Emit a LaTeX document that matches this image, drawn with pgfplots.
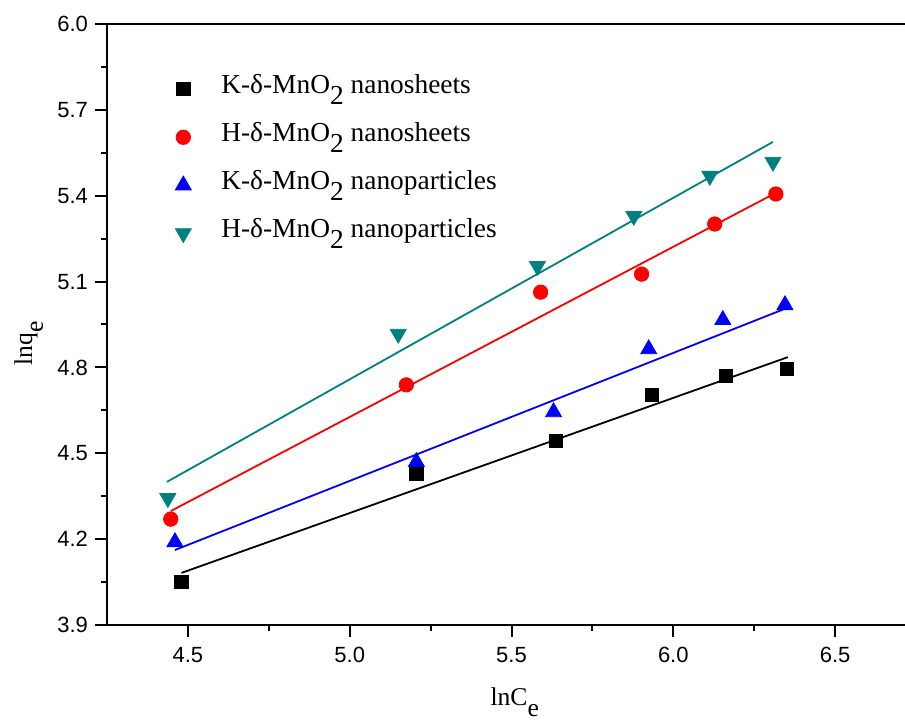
\documentclass[border=0pt]{standalone}
\usepackage{pgfplots}
\pgfplotsset{compat=1.18}
\usepackage{fontspec}
\setmainfont{Liberation Serif}
\newfontfamily\arialfont{Liberation Sans}
\definecolor{tealc}{RGB}{0,128,128}
\newcommand{\sub}[1]{\raisebox{-0.42em}{#1}}
\begin{document}
\begin{tikzpicture}
\useasboundingbox (-53.5pt,-48.5pt) rectangle (399pt,312.5pt);
\begin{axis}[
  scale only axis,
  width=404.5pt, height=300.5pt,
  xmin=4.25, xmax=6.75, ymin=3.9, ymax=6.0,
  xtick={4.5,5.0,5.5,6.0,6.5},
  ytick={3.9,4.2,4.5,4.8,5.1,5.4,5.7,6.0},
  minor x tick num=1, minor y tick num=1,
  tick pos=left, tick align=outside,
  major tick length=6pt, minor tick length=3pt,
  every tick/.style={black, line width=1pt},
  axis line style={line width=1pt},
  ticklabel style={font=\arialfont\fontsize{11}{13}\selectfont},
  /pgf/number format/assume math mode=true,
  /pgf/number format/.cd, fixed, fixed zerofill, precision=1,
  /pgfplots/.cd,
  xticklabel style={yshift=-1.5pt},
  xlabel={lnC\sub{e}},
  ylabel={lnq\sub{e}},
  label style={font=\fontsize{12.8}{14}\selectfont},
  xlabel style={at={(axis description cs:0.504,-0.1340)}, anchor=base},
  ylabel style={at={(axis description cs:-0.0927,0.469)}, anchor=base},
  legend style={draw=none, fill=none, inner sep=0pt, column sep=15pt, row sep=12pt,
    at={(axis description cs:0.084,0.912)}, anchor=north west,
    font=\fontsize{13.7}{15}\selectfont,
    nodes={inner sep=0pt, text height=8pt, text depth=4pt}},
  legend cell align=left,
]
\addplot[only marks, mark=square*, mark size=3.3pt, black] coordinates {
  (4.48,4.05) (5.206,4.428) (5.636,4.543) (5.933,4.704) (6.162,4.77) (6.351,4.794)};
\addlegendentry{K-δ-MnO\sub{2} nanosheets}
\addplot[only marks, mark=*, mark size=3.6pt, red] coordinates {
  (4.447,4.27) (5.175,4.739) (5.59,5.063) (5.902,5.126) (6.128,5.301) (6.317,5.406)};
\addlegendentry{H-δ-MnO\sub{2} nanosheets}
\addplot[only marks, mark=triangle*, mark size=4.6pt, blue] coordinates {
  (4.46,4.19) (5.206,4.47) (5.63,4.644) (5.924,4.864) (6.153,4.966) (6.345,5.018)};
\addlegendentry{K-δ-MnO\sub{2} nanoparticles}
\addplot[only marks, mark=triangle*, mark size=4.6pt, mark options={rotate=180}, tealc] coordinates {
  (4.438,4.343) (5.15,4.917) (5.58,5.154) (5.878,5.329) (6.113,5.469) (6.308,5.518)};
\addlegendentry{H-δ-MnO\sub{2} nanoparticles}
\addplot[black, line width=0.9pt, forget plot] coordinates {(4.48,4.082) (6.354,4.836)};
\addplot[red, line width=0.9pt, forget plot] coordinates {(4.447,4.298) (6.317,5.41)};
\addplot[blue, line width=0.9pt, forget plot] coordinates {(4.46,4.162) (6.345,5.005)};
\addplot[tealc, line width=0.9pt, forget plot] coordinates {(4.435,4.40) (6.308,5.588)};
\end{axis}
\end{tikzpicture}
\end{document}
